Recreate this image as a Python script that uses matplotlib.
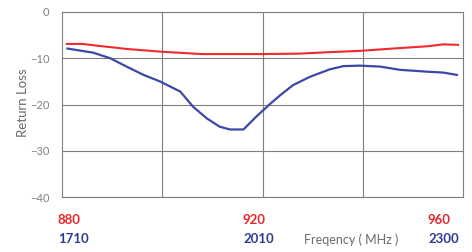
import matplotlib
matplotlib.use("Agg")
import matplotlib.pyplot as plt

# Data
red_freq = [881, 884, 888, 893, 900, 908, 919.5, 927.5, 933, 939.5, 946, 953, 956, 959]
red_rl = [-6.9, -6.9, -7.4, -8.0, -8.6, -9.1, -9.1, -9.0, -8.7, -8.4, -7.9, -7.4, -7.0, -7.1]

blue_freq = [1718, 1756, 1781, 1805, 1830, 1854, 1884, 1903, 1923, 1942, 1957, 1977,
             1996, 2016, 2031, 2050, 2075, 2104, 2124, 2148, 2178, 2207, 2247, 2271, 2291]
blue_rl = [-7.9, -8.8, -10.0, -11.8, -13.6, -15.0, -17.2, -20.5, -23.0, -24.8, -25.4, -25.4,
           -22.6, -19.9, -18.0, -15.8, -14.0, -12.4, -11.7, -11.6, -11.8, -12.5, -12.9, -13.1, -13.6]

red_ticks = ["880", "920", "960"]
blue_ticks = ["1710", "2010", "2300"]
y_ticks = [0, -10, -20, -30, -40]

RED = "#f02a2e"
BLUE = "#3a48a6"
RED_TXT = "#e8262b"
BLUE_TXT = "#2e3d92"
GRAY = "#7f7f7f"
TXT = "#6a6a6a"
FONT = "Lato"

fig = plt.figure(figsize=(4.72, 2.52), dpi=100)
ax = fig.add_axes([62/472, 1-197/252, 401/472, 185/252])
ax.set_xlim(880, 960)
ax.set_ylim(-40, 0)
ax.set_xticks([900, 920, 940])
ax.set_yticks(y_ticks)
ax.grid(True, color=GRAY, linewidth=0.8)
ax.set_axisbelow(True)
for s in ax.spines.values():
    s.set_color(GRAY)
    s.set_linewidth(0.8)
ax.tick_params(axis="x", length=0, labelbottom=False)
ax.tick_params(axis="y", length=0, pad=9, labelsize=8, labelcolor="#808080")
for lab in ax.get_yticklabels():
    lab.set_family(FONT)

ax.plot(red_freq, red_rl, color=RED, linewidth=1.5, zorder=3)

ax2 = ax.twiny()
ax2.set_xlim(1710, 2300)
ax2.set_ylim(-40, 0)
ax2.axis("off")
ax2.plot(blue_freq, blue_rl, color=BLUE, linewidth=1.6, zorder=3)

xs = [58, 243, 428]
for x, r, b in zip(xs, red_ticks, blue_ticks):
    fig.text(x/472, 1-220/252, r, color=RED_TXT, fontsize=9.5, fontweight="bold",
             family=FONT, ha="left", va="center")
    fig.text(x/472, 1-239/252, b, color=BLUE_TXT, fontsize=9.5, fontweight="bold",
             family=FONT, ha="left", va="center")

fig.text(304/472, 1-240/252, "Freqency ( MHz )", color=TXT, fontsize=9,
         family=FONT, ha="left", va="center")
fig.text(23/472, 1-103/252, "Return Loss", color=TXT, fontsize=9.5,
         family=FONT, rotation=90, ha="center", va="center")

fig.savefig("out.png", dpi=100, facecolor="white")
